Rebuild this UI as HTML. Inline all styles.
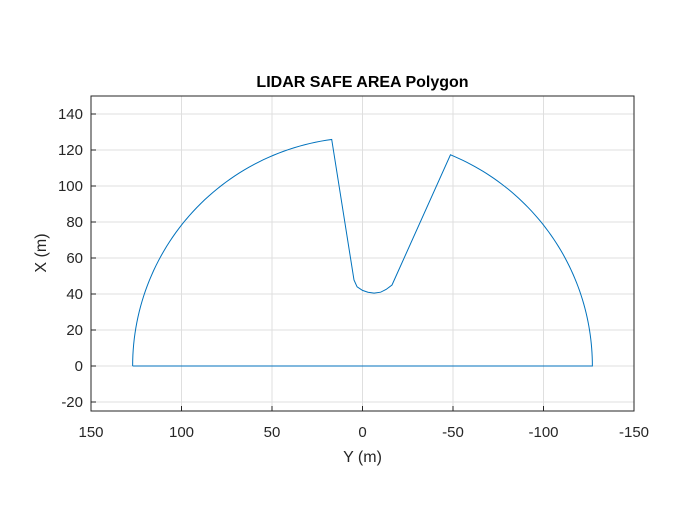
<!DOCTYPE html>
<html><head><meta charset="utf-8"><style>
body{margin:0;background:#fff;}
svg text{font-family:"Liberation Sans",Arial,sans-serif;}
</style></head><body>
<svg id="chart" width="700" height="525">
<rect width="700" height="525" fill="#fff"/>
<g id="grid"></g>
<path id="poly" fill="none" stroke="#0072bd" stroke-width="1"/>
<rect x="91" y="96" width="543" height="315" fill="none" stroke="#262626" stroke-width="1"/>
<g id="ticks"></g>
<text x="362.5" y="87" text-anchor="middle" font-size="16" font-weight="bold" fill="#000">LIDAR SAFE AREA Polygon</text>
<text x="362.5" y="462" text-anchor="middle" font-size="16" fill="#262626">Y (m)</text>
<text x="46" y="253" text-anchor="middle" font-size="16" fill="#262626" transform="rotate(-90 46 253)">X (m)</text>
</svg>
<script>
const xTicks=[150,100,50,0,-50,-100,-150];
const yTicks=[-20,0,20,40,60,80,100,120,140];
const outerRadius=127;
const arc1Angles=[0,82.3];     // degrees, from +Y axis
const arc2Angles=[112.5,180];
const notchY=[4.7,3,0,-3,-6.4,-10,-13,-16.3];
const notchX=[47.8,44,42,41,40.5,41,42.5,45];

const L=91,R=634,T=96,B=411;
const sx=v=>L+(150-v)/300*(R-L);
const sy=v=>B-(v+25)/175*(B-T);
const ns="http://www.w3.org/2000/svg";
const grid=document.getElementById('grid'),ticks=document.getElementById('ticks');
function mk(tag,attrs,parent){const e=document.createElementNS(ns,tag);for(const k in attrs)e.setAttribute(k,attrs[k]);parent.appendChild(e);return e;}
xTicks.forEach(v=>{
  const x=sx(v);
  const g=mk('line',{x1:x,x2:x,y1:T,y2:B,stroke:'#dfdfdf'},grid);
  
  
  const t=mk('line',{x1:x,x2:x,y1:B,y2:B-5,stroke:'#262626'},ticks);
  
  
  const lb=mk('text',{x:x,y:B+26,'text-anchor':'middle','font-size':15,fill:'#262626'},ticks);
  lb.textContent=v;
  
  
});
yTicks.forEach(v=>{
  const y=sy(v);
  const g=mk('line',{x1:L,x2:R,y1:y,y2:y,stroke:'#dfdfdf'},grid);
  
  
  const t=mk('line',{x1:L,x2:L+5,y1:y,y2:y,stroke:'#262626'},ticks);
  
  
  const lb=mk('text',{x:L-8,y:y+5,'text-anchor':'end','font-size':15,fill:'#262626'},ticks);
  lb.textContent=v;
  
  
});
const pts=[];
function arc(a0,a1){for(let i=0;i<=60;i++){const a=(a0+(a1-a0)*i/60)*Math.PI/180;pts.push([outerRadius*Math.cos(a),outerRadius*Math.sin(a)]);}}
arc(arc1Angles[0],arc1Angles[1]);
notchY.forEach((y,i)=>pts.push([y,notchX[i]]));
arc(arc2Angles[0],arc2Angles[1]);
pts.push([outerRadius,0]);
document.getElementById('poly').setAttribute('d',pts.map((p,i)=>(i?'L':'M')+sx(p[0]).toFixed(2)+','+sy(p[1]).toFixed(2)).join(''));
</script>
</body></html>
